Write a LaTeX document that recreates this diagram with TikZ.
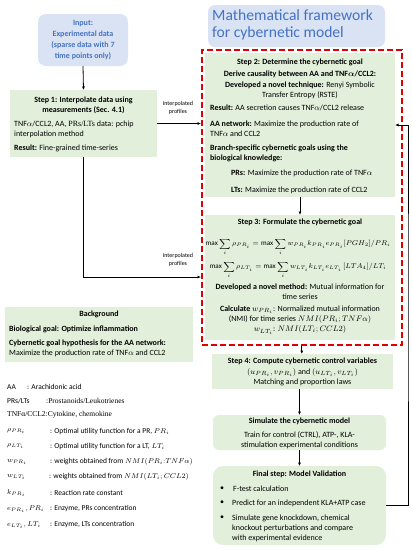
\documentclass[tikz,border=0pt]{standalone}
\usepackage{amsmath}
\usepackage{fontspec}
\setmainfont{Carlito}
\newfontfamily\serifc{Liberation Serif}
\usetikzlibrary{arrows.meta}
\definecolor{gfill}{HTML}{E2EFDA}
\definecolor{bfill}{HTML}{DAE3F3}
\definecolor{btext}{HTML}{4472C4}
\definecolor{dred}{HTML}{E00000}
\begin{document}
\begin{tikzpicture}[x=1pt,y=-1pt,
  box/.style={anchor=north west, inner sep=0pt, outer sep=0pt, fill=gfill},
  bbox/.style={anchor=north west, inner sep=0pt, outer sep=0pt, fill=bfill, rounded corners=#1},
  rbox/.style={anchor=north west, inner sep=0pt, outer sep=0pt, fill=gfill, rounded corners=#1},
  txt/.style={inner sep=0pt, font=\fontsize{8}{10.2}\selectfont},
  ltxt/.style={txt, anchor=west, align=left},
  ctxt/.style={txt, align=center},
  ftxt/.style={inner sep=0pt, font=\fontsize{7.1}{9}\selectfont},
  lab/.style={inner sep=0pt, align=center, font=\fontsize{6}{8.5}\selectfont},
  leg/.style={inner sep=0pt, anchor=west, font=\fontsize{7.5}{9}\selectfont},
  arr/.style={-{Latex[length=3.5pt,width=3pt]}, line width=0.8pt},
  frame/.style={draw=dred, line width=1.6pt, dash pattern=on 6pt off 3pt, anchor=north west, inner sep=0pt}
]
\useasboundingbox (0,0) rectangle (412,550);

% boxes
\node[bbox=7pt, minimum width=177pt, minimum height=42pt] (title) at (208,5) {};
\node[bbox=8pt, minimum width=90pt, minimum height=52pt] (input) at (38,14) {};
\node[box, minimum width=147pt, minimum height=67pt] (step1) at (10,90) {};
\node[box, minimum width=190pt, minimum height=144pt] (step2) at (205,53) {};
\node[box, minimum width=190pt, minimum height=125pt] (step3) at (205,215) {};
\node[frame, minimum width=200pt, minimum height=295pt] (frm) at (201,49) {};
\node[box, minimum width=181pt, minimum height=35pt] (step4) at (212,354) {};
\node[rbox=6pt, minimum width=173pt, minimum height=35pt] (sim) at (213,415) {};
\node[rbox=10pt, minimum width=173pt, minimum height=79pt] (final) at (213,466) {};
\node[box, minimum width=188pt, minimum height=55pt] (bg) at (5,307) {};

% title
\node[inner sep=0pt, anchor=west, align=left, text=btext, font=\fontsize{15.6}{17}\selectfont] (titlet) at (212,25) {Mathematical framework\\for cybernetic model};

% input
\node[ctxt, text=btext, font=\bfseries\fontsize{8}{11.3}\selectfont] (inputt) at (83,40) {Input:\\Experimental data\\(sparse data with 7\\time points only)};

% step 1
\node[ctxt] (s1a) at (83.5,105) {\textbf{Step 1: Interpolate data using}\\\textbf{measurements (Sec. 4.1)}};
\node[ltxt] (s1b) at (14,129) {TNF$\alpha$/CCL2, AA, {\serifc PRs/LTs} data: pchip\\interpolation method};
\node[ltxt] (s1c) at (14,148) {\textbf{Result:} Fine-grained time-series};

% step 2
\node[ctxt] (s2a) at (300,62) {\textbf{Step 2: Determine the cybernetic goal}};
\node[ctxt] (s2b) at (300,85) {\textbf{Derive causality between AA and TNF$\boldsymbol{\alpha}$/CCL2:}\\\textbf{Developed a novel technique:} Renyi Symbolic\\Transfer Entropy (RSTE)};
\node[ltxt] (s2c) at (210,108) {\textbf{Result:} AA secretion causes TNF$\alpha$/CCL2 release};
\node[ltxt] (s2d) at (210,128.5) {\textbf{AA network:} Maximize the production rate of\\TNF$\alpha$ and CCL2};
\node[ltxt] (s2e) at (210,153) {\textbf{Branch-specific cybernetic goals using the}\\\textbf{biological knowledge:}};
\node[ltxt] (s2f) at (231,173) {\textbf{PRs:} Maximize the production rate of TNF$\alpha$};
\node[ltxt] (s2g) at (231,190) {\textbf{LTs:} Maximize the production rate of CCL2};

% step 3
\node[ctxt] (s3a) at (300,222) {\textbf{Step 3: Formulate the cybernetic goal}};
\node[ftxt] (s3f1) at (298,247) {$\displaystyle \max\sum_{i}\rho_{PR_i} = \max\sum_{i} w_{PR_i}k_{PR_i}e_{PR_i}[PGH_2]/PR_i$};
\node[ftxt] (s3f2) at (298,270) {$\displaystyle \max\sum_{i}\rho_{LT_i} = \max\sum_{i} w_{LT_i}k_{LT_i}e_{LT_i}\,[LTA_4]/LT_i$};
\node[ctxt] (s3b) at (300,292) {\textbf{Developed a novel method:} Mutual information for\\time series};
\node[ctxt] (s3c) at (300,320) {\textbf{Calculate} $w_{PR_i}$: Normalized mutual information\\(NMI) for time series $NMI(PR_i;TNF\alpha)$\\$w_{LT_i}$: $NMI(LT_i;CCL2)$};

% step 4
\node[ctxt] (s4) at (302.5,372) {\textbf{Step 4: Compute cybernetic control variables}\\$(u_{PR_i},v_{PR_i})$ and $(u_{LT_i},v_{LT_i})$\\Matching and proportion laws};

% simulate
\node[ctxt] (sima) at (299.5,421) {\textbf{Simulate the cybernetic model}};
\node[ctxt] (simb) at (299.5,440) {Train for control (CTRL), ATP-, KLA-\\stimulation experimental conditions};

% final
\node[ctxt] (fina) at (299.5,474) {\textbf{Final step: Model Validation}};
\node[txt] (fb1) at (222,489) {\textbullet};
\node[ltxt] (ft1) at (233,489) {F-test calculation};
\node[txt] (fb2) at (222,503) {\textbullet};
\node[ltxt] (ft2) at (232,503) {Predict for an independent KLA+ATP case};
\node[txt] (fb3) at (222,518) {\textbullet};
\node[ltxt] (ft3) at (232,528.5) {Simulate gene knockdown, chemical\\knockout perturbations and compare\\with experimental evidence};

% background
\node[ctxt] (bga) at (99,314) {\textbf{Background}};
\node[ltxt] (bgb) at (9,329) {\textbf{Biological goal: Optimize inflammation}};
\node[ltxt] (bgc) at (9,348.5) {\textbf{Cybernetic goal hypothesis for the AA network:}\\Maximize the production rate of TNF$\alpha$ and CCL2};

% legend
\node[leg] (l1a) at (7,387) {AA};
\node[leg] (l1b) at (27,387) {: Arachidonic acid};
\node[leg] (l2a) at (7,401) {PRs/LTs};
\node[leg] (l2b) at (46,401) {{\serifc :Prostanoids/Leukotrienes}};
\node[leg] (l3a) at (7,415) {{\serifc TNFα/CCL2:Cytokine, chemokine}};
\node[leg] (l4a) at (7,431) {$\rho_{PR_i}$};
\node[leg] (l4b) at (50,431) {: Optimal utility function for a PR, $PR_i$};
\node[leg] (l5a) at (7,446) {$\rho_{LT_i}$};
\node[leg] (l5b) at (50,446) {: Optimal utility function for a LT, $LT_i$};
\node[leg] (l6a) at (7,462) {$w_{PR_i}$};
\node[leg] (l6b) at (50,462) {: weights obtained from $NMI(PR_i{:}TNF\alpha)$};
\node[leg] (l7a) at (7,477) {$w_{LT_i}$};
\node[leg] (l7b) at (49,477) {: weights obtained from $NMI(LT_i;CCL2)$};
\node[leg] (l8a) at (7,493) {$k_{PR_i}$};
\node[leg] (l8b) at (50,493) {: Reaction rate constant};
\node[leg] (l9a) at (7,509) {$e_{PR_i},PR_i$};
\node[leg] (l9b) at (50,509) {: Enzyme, PRs concentration};
\node[leg] (l10a) at (7,525) {$e_{LT_i},LT_i$};
\node[leg] (l10b) at (50,525) {: Enzyme, LTs concentration};

% labels on arrows
\node[lab] (lab1) at (178,108) {Interpolated\\profiles};
\node[lab] (lab2) at (178,260) {Interpolated\\profiles};

% connectors
\coordinate (c277) at (201,277);
\coordinate (fbx) at (408,300);
\draw[arr] (input.south) -- (step1.north);
\draw[arr] (step1.east) -- (frm.west |- step1.east);
\draw[arr] (step1.south) |- (c277);
\draw[arr] (step2.south) -- (step3.north);
\draw[arr] (frm.south) -- (frm.south |- step4.north);
\draw[arr] (step4.south -| sim.north) -- (sim.north);
\draw[arr] (sim.south) -- (final.north);
\draw[arr] (final.east) -| (fbx) |- (step2.east);
\end{tikzpicture}
\end{document}
